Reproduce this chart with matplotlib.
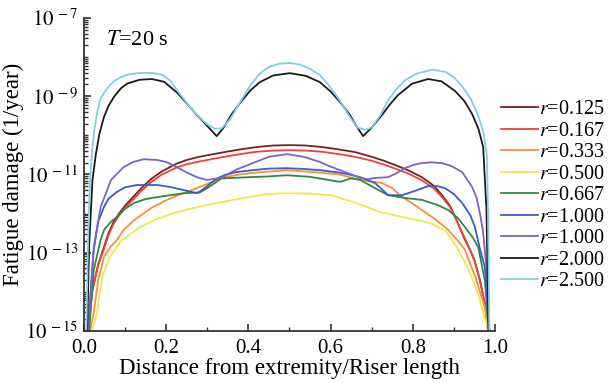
import numpy as np
import matplotlib
matplotlib.use('Agg')
import matplotlib.pyplot as plt
from matplotlib.ticker import FixedLocator, NullFormatter, FixedFormatter

plt.rcParams['font.family'] = ['Liberation Serif', 'DejaVu Serif']
plt.rcParams['mathtext.fontset'] = 'stix'

# values: x = distance/riser length, y = log10(damage)
x_r0125 = [0.01, 0.02, 0.035, 0.049, 0.06, 0.073, 0.087, 0.10, 0.122, 0.14, 0.163, 0.19, 0.226, 0.25,
           0.28, 0.341, 0.38, 0.42, 0.46, 0.50, 0.54, 0.58, 0.62, 0.66, 0.70, 0.73, 0.757, 0.79, 0.822,
           0.85, 0.871, 0.89, 0.903, 0.915, 0.927, 0.94, 0.95, 0.963, 0.975, 0.983]
y_r0125 = [-15, -14.0, -13.3, -12.85, -12.5, -12.2, -11.98, -11.8, -11.55, -11.35, -11.12, -10.92,
           -10.72, -10.63, -10.55, -10.43, -10.36, -10.30, -10.26, -10.25, -10.26, -10.30, -10.36,
           -10.43, -10.55, -10.65, -10.76, -10.9, -11.07, -11.28, -11.53, -11.8, -12.09, -12.38,
           -12.68, -12.95, -13.2, -13.7, -14.3, -15]

x_r0167 = x_r0125
y_r0167 = [-15, -14.0, -13.3, -12.9, -12.55, -12.25, -12.03, -11.85, -11.62, -11.42, -11.2, -11.0,
           -10.82, -10.74, -10.67, -10.55, -10.48, -10.42, -10.39, -10.38, -10.39, -10.42, -10.48,
           -10.55, -10.65, -10.75, -10.85, -10.98, -11.15, -11.35, -11.58, -11.83, -12.1, -12.38,
           -12.65, -12.95, -13.2, -13.7, -14.3, -15]

x_r0333 = [0.015, 0.024, 0.035, 0.049, 0.065, 0.08, 0.097, 0.122, 0.145, 0.165, 0.202, 0.237, 0.282,
           0.31, 0.341, 0.38, 0.42, 0.494, 0.57, 0.62, 0.672, 0.725, 0.75, 0.77, 0.80, 0.822, 0.855,
           0.886, 0.91, 0.927, 0.94, 0.953, 0.963, 0.975, 0.984]
y_r0333 = [-15, -14.54, -13.7, -13.11, -12.85, -12.68, -12.42, -12.17, -12.0, -11.85, -11.65, -11.5,
           -11.32, -11.2, -11.07, -11.0, -10.95, -10.89, -10.95, -11.0, -11.14, -11.22, -11.35, -11.55,
           -11.75, -11.91, -12.15, -12.42, -12.7, -12.93, -13.3, -13.65, -14.0, -14.4, -15]

x_r0500 = [0.02, 0.032, 0.045, 0.063, 0.09, 0.136, 0.175, 0.217, 0.265, 0.30, 0.363, 0.445, 0.49,
           0.55, 0.60, 0.66, 0.72, 0.78, 0.842, 0.88, 0.907, 0.93, 0.946, 0.96, 0.971, 0.985]
y_r0500 = [-15, -14.54, -13.6, -13.11, -12.7, -12.35, -12.15, -11.99, -11.86, -11.78, -11.65, -11.50,
           -11.48, -11.49, -11.53, -11.72, -11.96, -12.1, -12.24, -12.45, -12.86, -13.3, -13.7, -14.1,
           -14.54, -15]

x_r0667 = [0.013, 0.024, 0.04, 0.049, 0.065, 0.08, 0.1, 0.122, 0.15, 0.178, 0.243, 0.282, 0.30, 0.335,
           0.40, 0.45, 0.494, 0.55, 0.60, 0.623, 0.65, 0.672, 0.708, 0.74, 0.78, 0.822, 0.86, 0.886,
           0.91, 0.927, 0.945, 0.959, 0.975, 0.985]
y_r0667 = [-15, -13.45, -12.7, -12.42, -12.22, -12.09, -11.88, -11.73, -11.63, -11.58, -11.48, -11.46,
           -11.35, -11.1, -11.07, -11.05, -11.02, -11.06, -11.15, -11.19, -11.1, -11.14, -11.35,
           -11.53, -11.6, -11.65, -11.78, -11.91, -12.12, -12.35, -12.6, -12.86, -13.7, -15]

x_r1000a = [0.01, 0.024, 0.035, 0.049, 0.06, 0.08, 0.10, 0.129, 0.178, 0.21, 0.243, 0.275, 0.29,
            0.309, 0.325, 0.341, 0.37, 0.411, 0.45, 0.494, 0.535, 0.574, 0.62, 0.645, 0.672, 0.708,
            0.725, 0.74, 0.774, 0.805, 0.837, 0.86, 0.878, 0.90, 0.92, 0.94, 0.951, 0.963, 0.975, 0.986]
y_r1000a = [-15, -12.93, -12.2, -11.83, -11.62, -11.45, -11.33, -11.27, -11.27, -11.32, -11.40,
            -11.48, -11.38, -11.22, -11.1, -11.02, -10.94, -10.89, -10.85, -10.84, -10.86, -10.89,
            -10.95, -11.0, -11.07, -11.22, -11.38, -11.53, -11.53, -11.42, -11.30, -11.3, -11.35,
            -11.5, -11.73, -12.05, -12.35, -12.9, -13.37, -15]

x_r1000b = [0.01, 0.024, 0.041, 0.066, 0.097, 0.12, 0.146, 0.178, 0.20, 0.226, 0.25, 0.275, 0.299,
            0.333, 0.37, 0.411, 0.45, 0.494, 0.535, 0.574, 0.60, 0.623, 0.672, 0.69, 0.708, 0.74, 0.76,
            0.781, 0.80, 0.822, 0.845, 0.871, 0.895, 0.92, 0.944, 0.955, 0.963, 0.97, 0.978, 0.986]
y_r1000b = [-15, -12.86, -11.83, -11.14, -10.81, -10.68, -10.61, -10.63, -10.68, -10.81, -10.95,
            -11.07, -11.14, -11.09, -10.88, -10.71, -10.55, -10.48, -10.55, -10.68, -10.8, -10.89,
            -11.09, -11.12, -11.09, -11.07, -10.97, -10.84, -10.76, -10.71, -10.69, -10.71, -10.79,
            -10.94, -11.32, -11.6, -11.99, -12.4, -13.27, -15]

x_r2000 = [0.008, 0.013, 0.021, 0.029, 0.038, 0.049, 0.06, 0.073, 0.09, 0.105, 0.135, 0.165, 0.195,
           0.226, 0.25, 0.275, 0.30, 0.323, 0.34, 0.36, 0.38, 0.405, 0.428, 0.46, 0.501, 0.54, 0.574,
           0.60, 0.623, 0.645, 0.665, 0.679, 0.70, 0.725, 0.745, 0.764, 0.798, 0.837, 0.87, 0.903,
           0.925, 0.944, 0.96, 0.971, 0.979, 0.984]
y_r2000 = [-15, -12.8, -11.14, -10.5, -9.95, -9.53, -9.25, -9.02, -8.8, -8.68, -8.58, -8.56, -8.63,
           -8.9, -9.18, -9.48, -9.76, -10.02, -9.8, -9.45, -9.17, -8.85, -8.64, -8.47, -8.41, -8.48,
           -8.64, -8.88, -9.15, -9.45, -9.8, -10.02, -9.8, -9.48, -9.2, -8.97, -8.68, -8.56, -8.62,
           -8.87, -9.12, -9.45, -9.85, -10.3, -11.9, -15]

x_r2500 = [0.006, 0.01, 0.015, 0.02, 0.025, 0.032, 0.039, 0.05, 0.063, 0.075, 0.092, 0.11, 0.13, 0.165,
           0.19, 0.21, 0.234, 0.26, 0.282, 0.30, 0.319, 0.335, 0.355, 0.38, 0.405, 0.428, 0.45, 0.475,
           0.501, 0.525, 0.55, 0.574, 0.60, 0.623, 0.645, 0.665, 0.684, 0.70, 0.72, 0.74, 0.76, 0.781,
           0.81, 0.847, 0.88, 0.90, 0.92, 0.94, 0.959, 0.972, 0.98, 0.983, 0.986]
y_r2500 = [-15, -12.8, -11.14, -10.4, -9.9, -9.45, -9.10, -8.9, -8.72, -8.6, -8.5, -8.44, -8.41, -8.40,
           -8.45, -8.6, -8.95, -9.3, -9.55, -9.72, -9.83, -9.82, -9.6, -9.15, -8.72, -8.42, -8.25,
           -8.17, -8.15, -8.19, -8.3, -8.46, -8.78, -9.12, -9.5, -9.8, -9.86, -9.8, -9.5, -9.1, -8.82,
           -8.59, -8.42, -8.32, -8.38, -8.52, -8.75, -9.05, -9.5, -9.95, -10.5, -12.0, -15]

labels = ['0.125', '0.167', '0.333', '0.500', '0.667', '1.000', '1.000', '2.000', '2.500']
colors = ['#7a1f1f', '#e8453c', '#f5913a', '#eee84a', '#2e8b3a',
          '#3a5cc4', '#7c62c6', '#1a1a1a', '#80d0e2']
series = [(x_r0125, y_r0125), (x_r0167, y_r0167), (x_r0333, y_r0333), (x_r0500, y_r0500),
          (x_r0667, y_r0667), (x_r1000a, y_r1000a), (x_r1000b, y_r1000b),
          (x_r2000, y_r2000), (x_r2500, y_r2500)]

fig = plt.figure(figsize=(6.12, 3.83), dpi=100)
ax = fig.add_axes([0.137, 0.136, 0.672, 0.817])

for (xs, ys), lab, c in zip(series, labels, colors):
    ax.plot(xs, 10.0 ** np.array(ys), color=c, lw=1.3, label='$r$=' + lab)

ax.set_yscale('log')
ax.set_xlim(0, 1.0)
ax.set_ylim(1e-15, 1e-7)

major_exp = [-15, -13, -11, -9, -7]
ax.yaxis.set_major_locator(FixedLocator([10.0 ** e for e in major_exp]))
ax.yaxis.set_major_formatter(FixedFormatter(['$10^{\\,-%d}$' % -e for e in major_exp]))
minor = [k * 10.0 ** e for e in range(-15, -7) for k in range(1, 10) if not (k == 1 and e in major_exp)]
ax.yaxis.set_minor_locator(FixedLocator(minor))
ax.yaxis.set_minor_formatter(NullFormatter())

ax.set_xticks([0.0, 0.2, 0.4, 0.6, 0.8, 1.0])
ax.set_xticklabels(['0.0', '0.2', '0.4', '0.6', '0.8', '1.0'])
ax.set_xticks([0.1, 0.3, 0.5, 0.7, 0.9], minor=True)

ax.tick_params(which='both', direction='in', labelsize=15, colors='#333333', labelcolor='black')
ax.tick_params(which='major', length=5, width=1.2)
ax.tick_params(which='minor', length=3, width=1.0)
ax.tick_params(axis='x', which='major', pad=6)
ax.tick_params(axis='y', which='major', pad=4)
ax.spines['top'].set_visible(False)
ax.spines['right'].set_visible(False)
for s in ['left', 'bottom']:
    ax.spines[s].set_linewidth(1.3)
    ax.spines[s].set_color('#333333')

ax.set_xlabel('Distance from extremity/Riser length', fontsize=16.5, labelpad=0)
ax.set_ylabel('Fatigue damage (1/year)', fontsize=16.5, labelpad=1)
ax.text(0.055, 0.96, '$T$=20 s', transform=ax.transAxes, fontsize=16, va='top', ha='left')

ax.legend(loc='center left', bbox_to_anchor=(1.015, 0.432), frameon=False, fontsize=14.5,
          handlelength=1.8, handletextpad=0.05, labelspacing=0.12, borderaxespad=0, borderpad=0)

fig.savefig('out.png', dpi=100)
